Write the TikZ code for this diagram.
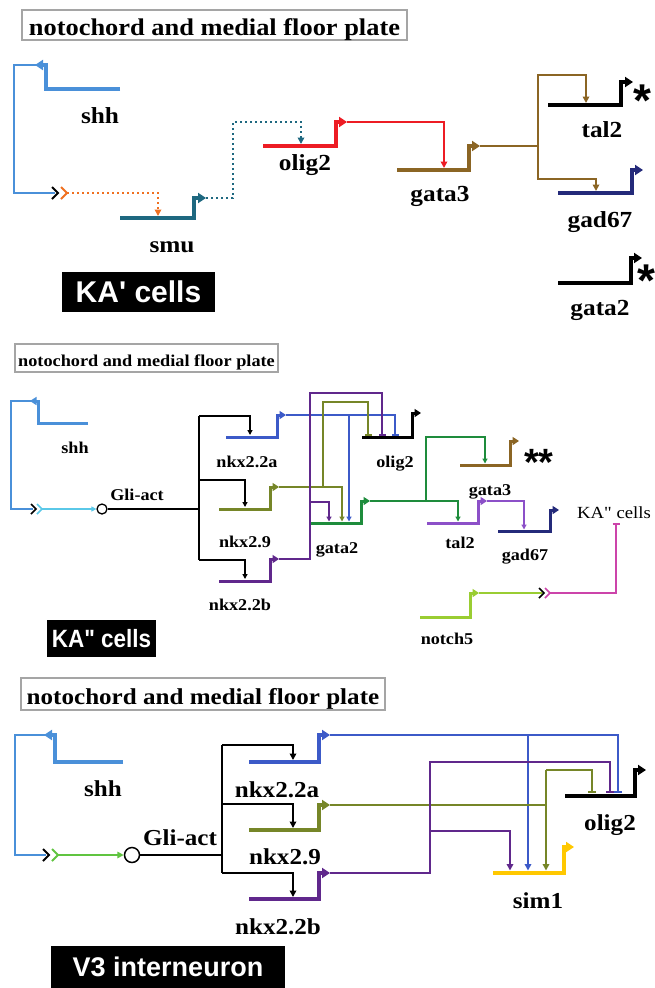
\documentclass[tikz,border=0pt]{standalone}
\usepackage{fontspec}
\setmainfont{Liberation Serif}
\newfontfamily\lab[FakeStretch=1.1]{Liberation Serif}
\newfontfamily\boxf{Liberation Sans}
\usetikzlibrary{arrows.meta}
\definecolor{shhc}{RGB}{74,144,217}
\definecolor{orangec}{RGB}{240,112,32}
\definecolor{smuc}{RGB}{30,104,128}
\definecolor{redc}{RGB}{237,28,36}
\definecolor{brownc}{RGB}{139,101,36}
\definecolor{navyc}{RGB}{36,42,122}
\definecolor{cyanc}{RGB}{90,200,232}
\definecolor{kbluec}{RGB}{60,90,200}
\definecolor{olivec}{RGB}{118,134,40}
\definecolor{kpurc}{RGB}{96,40,140}
\definecolor{ggreenc}{RGB}{30,140,60}
\definecolor{violetc}{RGB}{140,80,200}
\definecolor{lgreenc}{RGB}{154,205,50}
\definecolor{magc}{RGB}{204,68,170}
\definecolor{bgreenc}{RGB}{96,196,64}
\definecolor{yellowc}{RGB}{255,200,0}
\definecolor{titlegray}{RGB}{165,165,165}
\tikzset{
  gene/.style={line width=3.5pt},
  pro/.style={-{Triangle[length=8pt,width=10pt]}},
  lnk/.style={line width=2pt},
  act/.style={line width=2pt,-{Triangle[length=6.5pt,width=6.5pt]}},
  inh/.style={line width=2pt,-{Bar[width=8pt]}},
  dots/.style={dash pattern=on 2.2pt off 2.8pt},
  lbl/.style={font={\lab\bfseries\fontsize{23pt}{23pt}\selectfont}, anchor=base, inner sep=0pt},
  ttlbox/.style={draw=titlegray, line width=2.5pt, fill=white},
  ttltext/.style={font={\lab\bfseries\fontsize{24pt}{24pt}\selectfont}, anchor=base, inner sep=0pt},
  blkbox/.style={fill=black, inner sep=0pt},
  blktext/.style={text=white, font={\boxf\bfseries\fontsize{30pt}{30pt}\selectfont}, inner sep=0pt},
  star/.style={font={\boxf\bfseries\fontsize{46pt}{46pt}\selectfont}, anchor=base, inner sep=0pt},
  glic/.style={circle, draw, fill=white, inner sep=0pt},
}
\begin{document}
\begin{tikzpicture}[x=1pt,y=-1pt,line join=miter]
\useasboundingbox (0,0) rectangle (654,988);
\fill[white] (0,0) rectangle (654,988);

% ================= TOP PANEL =================
\draw[ttlbox] (22,10) rectangle (407,40);
\node[ttltext] (tT) at (214.5,35) {notochord and medial floor plate};

% shh
\draw[gene,shhc,pro] (120,89) -- (46,89) -- (46,65) -- (35,65);
\coordinate (tShhP) at (36,65);
\draw[lnk,shhc] (tShhP) -- (14,65) -- (14,193) -- (55,193);
\draw[lnk,black] (52,187) -- (58,193) -- (52,199);
\draw[lnk,orangec] (61,187) -- (67,193) -- (61,199);
\draw[act,orangec,dots] (67,193) -- (158,193) -- (158,216);
\node[lbl] (tshh) at (100,123) {shh};
% smu
\draw[gene,smuc,pro] (120,218) -- (194,218) -- (194,198) -- (206,198);
\coordinate (tSmuP) at (206,198);
\draw[act,smuc,dots] (tSmuP) -- (233,198) -- (233,122) -- (301,122) -- (301,144);
\node[lbl] (tsmu) at (172,252) {smu};
% olig2
\draw[gene,redc,pro] (263,146) -- (336,146) -- (336,122) -- (347,122);
\coordinate (tOligP) at (347,122);
\draw[act,redc] (tOligP) -- (444,122) -- (444,168);
\node[lbl] (tolig) at (305,170) {olig2};
% gata3
\draw[gene,brownc,pro] (397,170) -- (469,170) -- (469,146) -- (480,146);
\coordinate (tGataP) at (480,146);
\draw[lnk,brownc] (tGataP) -- (538,146);
\draw[act,brownc] (538,146) -- (538,75) -- (586,75) -- (586,103);
\draw[act,brownc] (538,146) -- (538,179) -- (596,179) -- (596,191);
\node[lbl] (tgata3) at (440,201) {gata3};
% tal2, gad67, gata2
\draw[gene,black,pro] (548,105) -- (621,105) -- (621,82) -- (633,82);
\node[lbl] (ttal) at (602,137) {tal2};
\node[star] (tst1) at (642,116) {*};
\draw[gene,navyc,pro] (558,193) -- (632,193) -- (632,170) -- (643,170);
\node[lbl] (tgad) at (600,227) {gad67};
\draw[gene,black,pro] (558,283) -- (631,283) -- (631,258) -- (642,258);
\node[lbl] (tgata2) at (600,315) {gata2};
\node[star] (tst2) at (646,296) {*};
% KA' box
\fill[blkbox] (62,272) rectangle (215,312);
\node[blktext] (tKA) at (138.5,292) {KA\textquotesingle\ cells};

% ================= MIDDLE PANEL =================
\begin{scope}[
  gene/.style={line width=3pt},
  pro/.style={-{Triangle[length=6.5pt,width=8pt]}},
  lnk/.style={line width=1.5pt},
  act/.style={line width=1.5pt,-{Triangle[length=5pt,width=5pt]}},
  inh/.style={line width=1.5pt,-{Bar[width=7pt]}},
  lbl/.style={font={\lab\bfseries\fontsize{16.5pt}{16.5pt}\selectfont}, anchor=base, inner sep=0pt}]
\draw[ttlbox,line width=2.2pt] (15,344) rectangle (278,372);
\node[ttltext,font={\lab\bfseries\fontsize{16.6pt}{16.6pt}\selectfont}] (mT) at (146.5,366) {notochord and medial floor plate};
% shh
\draw[gene,shhc,pro] (88,423) -- (38,423) -- (38,401) -- (30,401);
\coordinate (mShhP) at (31,401);
\draw[lnk,shhc] (mShhP) -- (11,401) -- (11,509) -- (33,509);
\draw[lnk,black] (31,504) -- (36,509) -- (31,514);
\draw[lnk,cyanc] (37,504) -- (42,509) -- (37,514);
\node[lbl] (mshh) at (75,453) {shh};
\node[glic,line width=1.3pt,minimum size=10pt] (mGli) at (102,509) {};
\draw[act,cyanc] (42,509) -- (mGli.west);
\node[lbl] (mgliT) at (137,500) {Gli-act};
\draw[lnk,black] (mGli.east) -- (199,509);
\draw[lnk,black] (199,416) -- (199,560);
\draw[act,black] (199,416) -- (250,416) -- (250,435);
\draw[act,black] (199,480) -- (245,480) -- (245,507);
\draw[act,black] (199,560) -- (245,560) -- (245,579);
% nkx genes
\draw[gene,kbluec,pro] (226,437) -- (277,437) -- (277,415) -- (286,415);
\node[lbl] (mnkxa) at (247,467) {nkx2.2a};
\draw[gene,olivec,pro] (219,509) -- (270,509) -- (270,487) -- (279,487);
\node[lbl] (mnkx9) at (245,547) {nkx2.9};
\draw[gene,kpurc,pro] (219,581) -- (270,581) -- (270,559) -- (279,559);
\node[lbl] (mnkxb) at (240,610) {nkx2.2b};
% olig2 and gata2
\draw[gene,black,pro] (362,437) -- (412,437) -- (412,413) -- (421,413);
\node[lbl] (molig) at (395,467) {olig2};
\draw[gene,ggreenc,pro] (310,523) -- (361,523) -- (361,501) -- (370,501);
\node[lbl] (mgata2) at (337,553) {gata2};
% regulation into olig2 / gata2
\draw[inh,kbluec] (286,415) -- (395,415) -- (395,435.5);
\draw[act,kbluec] (349,415) -- (349,521.5);
\draw[act,olivec] (279,487) -- (342,487) -- (342,521.5);
\draw[inh,olivec] (323,487) -- (323,402) -- (368,402) -- (368,435.5);
\draw[inh,kpurc] (279,559) -- (310,559) -- (310,393) -- (382,393) -- (382,435.5);
\draw[act,kpurc] (310,502) -- (329,502) -- (329,521.5);
% gata3, tal2, gad67
\draw[gene,brownc,pro] (460,465) -- (510,465) -- (510,441) -- (519,441);
\node[lbl] (mgata3) at (490,495) {gata3};
\node[star,font={\boxf\bfseries\fontsize{38pt}{38pt}\selectfont}] (mst) at (539,475) {**};
\draw[gene,violetc,pro] (427,523) -- (478,523) -- (478,501) -- (487,501);
\node[lbl] (mtal) at (460,548) {tal2};
\draw[gene,navyc,pro] (498,531) -- (550,531) -- (550,510) -- (559,510);
\node[lbl] (mgad) at (525,560) {gad67};
\draw[act,ggreenc] (370,501) -- (458,501) -- (458,521.5);
\draw[act,ggreenc] (426,501) -- (426,437) -- (485,437) -- (485,463.5);
\draw[act,violetc] (487,501) -- (524,501) -- (524,529.5);
% KA'' cells and notch5
\node[lbl,font={\lab\fontsize{17pt}{17pt}\selectfont}] (mKAt) at (614,518) {KA" cells};
\draw[gene,lgreenc,pro] (420,617) -- (470,617) -- (470,593) -- (479,593);
\node[lbl] (mnotch) at (447,644) {notch5};
\draw[lnk,lgreenc] (479,593) -- (542,593);
\draw[lnk,black] (539,588) -- (544,593) -- (539,598);
\draw[lnk,magc] (545,588) -- (550,593) -- (545,598);
\draw[inh,magc] (550,593) -- (616,593) -- (616,523);
% KA'' box
\fill[blkbox] (47,620) rectangle (156,657);
\node[blktext,font={\boxf\bfseries\fontsize{25pt}{25pt}\selectfont}] (mKA) at (101.5,638.5) {\scalebox{0.9}[1]{KA" cells}};
\end{scope}

% ================= BOTTOM PANEL =================
\begin{scope}[
  gene/.style={line width=3.8pt},
  lbl/.style={font={\lab\bfseries\fontsize{22.8pt}{22.8pt}\selectfont}, anchor=base, inner sep=0pt}]
\draw[ttlbox] (21,678) rectangle (385,710);
\node[ttltext,font={\lab\bfseries\fontsize{22.8pt}{22.8pt}\selectfont}] (bT) at (203,704) {notochord and medial floor plate};
% shh
\draw[gene,shhc,pro] (123,762) -- (55,762) -- (55,735) -- (44,735);
\coordinate (bShhP) at (45,735);
\draw[lnk,shhc] (bShhP) -- (15,735) -- (15,855) -- (46,855);
\draw[lnk,black] (43,849) -- (49,855) -- (43,861);
\draw[lnk,bgreenc] (52,849) -- (58,855) -- (52,861);
\node[lbl] (bshh) at (103,796) {shh};
\node[glic,line width=1.5pt,minimum size=15pt] (bGli) at (132,855) {};
\draw[act,bgreenc] (58,855) -- (bGli.west);
\node[lbl] (bgliT) at (180,845) {Gli-act};
\draw[lnk,black] (bGli.east) -- (222,855);
\draw[lnk,black] (222,745) -- (222,873);
\draw[act,black] (222,745) -- (293,745) -- (293,760);
\draw[act,black] (222,804) -- (293,804) -- (293,828);
\draw[act,black] (222,873) -- (293,873) -- (293,897);
% nkx genes
\draw[gene,kbluec,pro] (249,762) -- (319,762) -- (319,735) -- (330,735);
\node[lbl] (bnkxa) at (277,797) {nkx2.2a};
\draw[gene,olivec,pro] (249,830) -- (319,830) -- (319,805) -- (330,805);
\node[lbl] (bnkx9) at (285,864) {nkx2.9};
\draw[gene,kpurc,pro] (249,899) -- (319,899) -- (319,873) -- (330,873);
\node[lbl] (bnkxb) at (278,934) {nkx2.2b};
% olig2 and sim1
\draw[gene,black,pro] (565,796) -- (635,796) -- (635,770) -- (646,770);
\node[lbl] (bolig) at (610,830) {olig2};
\draw[gene,yellowc,pro] (493,873) -- (564,873) -- (564,847) -- (574,847);
\node[lbl] (bsim) at (538,908) {sim1};
% regulation
\draw[inh,kbluec] (330,735) -- (618,735) -- (618,793);
\draw[act,kbluec] (528,735) -- (528,870.5);
\draw[lnk,olivec] (330,805) -- (546,805);
\draw[act,olivec] (546,805) -- (546,770) -- (546,870.5);
\draw[inh,olivec] (546,770) -- (592,770) -- (592,793);
\draw[inh,kpurc] (330,873) -- (430,873) -- (430,762) -- (610,762) -- (610,793);
\draw[act,kpurc] (430,831) -- (510,831) -- (510,870.5);
% V3 box
\fill[blkbox] (51,946) rectangle (285,988);
\node[blktext,font={\boxf\bfseries\fontsize{27pt}{27pt}\selectfont}] (bV3) at (168,967) {V3 interneuron};
\end{scope}
\end{tikzpicture}
\end{document}
